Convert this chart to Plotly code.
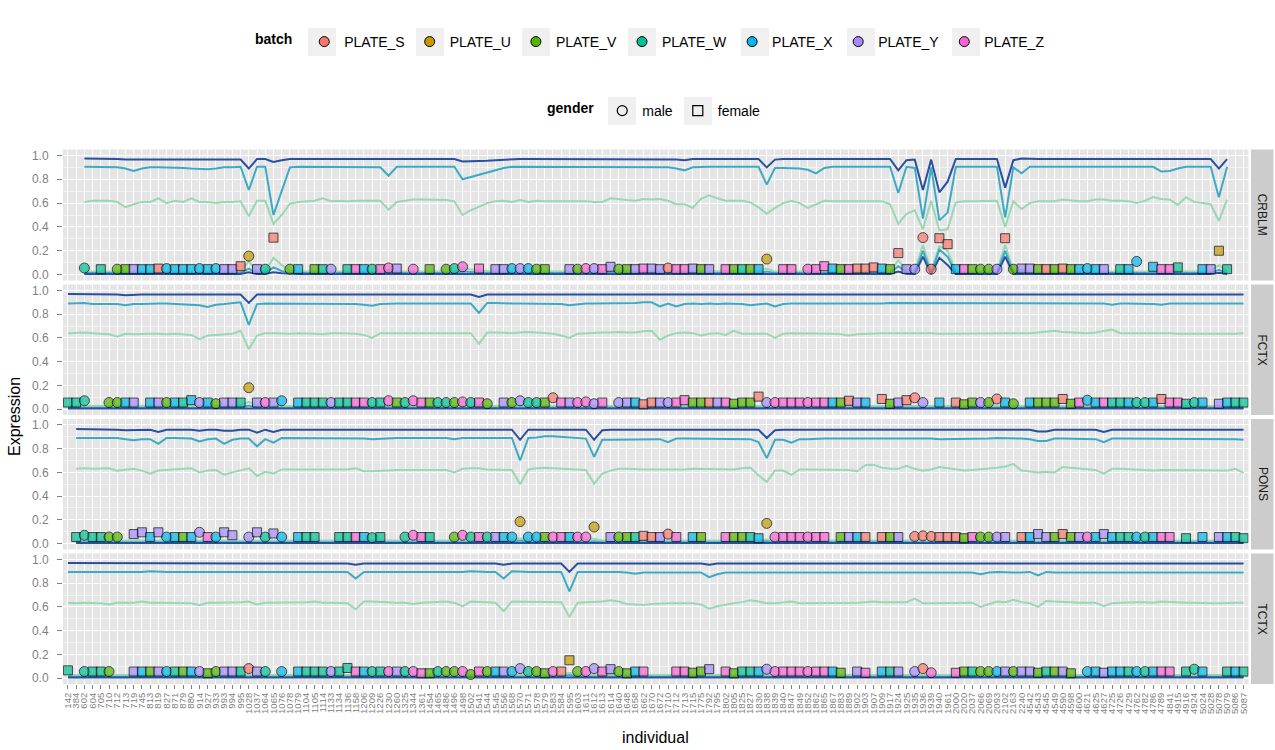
import plotly.graph_objects as go

FONT = "Liberation Sans"
W, H = 1275, 750
BODY = 0  # page margin is removed by the post script below


def px(x):
    return (x - BODY) / W


def py(y):
    return 1 - (y - BODY) / H


individuals = ("142 384 602 604 705 710 712 713 719 745 813 819 "
               "827 871 879 880 914 927 933 993 994 995 1028 1037 "
               "1064 1065 1076 1078 1079 1104 1105 1114 1133 1134 1136 1158 "
               "1206 1209 1226 1230 1260 1325 1344 1361 1454 1465 1486 1496 "
               "1498 1502 1541 1544 1545 1556 1568 1570 1571 1578 1579 1583 "
               "1584 1595 1603 1611 1612 1613 1614 1640 1648 1658 1662 1670 "
               "1672 1710 1712 1713 1715 1775 1792 1795 1802 1805 1825 1827 "
               "1830 1838 1839 1840 1847 1849 1852 1862 1865 1867 1883 1889 "
               "1902 1903 1907 1909 1917 1924 1925 1935 1936 1939 1940 1961 "
               "2000 2020 2037 2066 2069 2093 2102 2163 2240 4542 4543 4545 "
               "4549 4590 4598 4600 4621 4625 4627 4725 4726 4729 4762 4782 "
               "4786 4789 4841 4915 4916 4924 5024 5028 5078 5079 5086 5087").split()
N = len(individuals)

batch_names = ["PLATE_S", "PLATE_U", "PLATE_V", "PLATE_W", "PLATE_X", "PLATE_Y", "PLATE_Z"]
batch_letters = ["S", "U", "V", "W", "X", "Y", "Z"]
batch_colors = ["#F8766D", "#C49A00", "#53B400", "#00C094", "#00B6EB", "#A58AFF", "#FB61D7"]
gender_names = ["male", "female"]
tissues = ["CRBLM", "FCTX", "PONS", "TCTX"]

# sample codes per individual: batch letter + gender (m/f); "." = no sample
crblm_codes = (". . Wm . Wf . Vm Vf Yf Xf Xf Sf "
               "Xm Xf Xf Xf Xm Xf Xm Yf Yf Sf Um Yf "
               "Wm Sf . Vm Xf . Vf Wf Ym . Wf Zf "
               "Xf Wm Zf Zm Yf . Zm . Vf . Vm Wm "
               "Zm . Zf . Yf Yf Xm Ym Xm Vm Vf . "
               ". Yf Vm Zm Ym Zf Yf Vm Vf Yf Zf Yf "
               "Yf Sm Zf Zf Yf Vf Yf . Zf Vf Wf Vf "
               "Xf Um . Zf Zf . Zm Zf Zf Xf Vf Zf "
               "Sf Sf Sf Xf Vf Sf Yf Ym Sm Sm Sf Sf "
               "Xf Zf Vf Vm Vm Ym Sf Vm Yf Yf Vf Sf "
               "Vf Sf Vf Xf Xm Xf Yf . Wf Xf Xm . "
               "Xf Zf Zf Wf . . Xf Yf Uf Wf . .").split()
fctx_codes = ("Wf Wf Wm . . Vm Vm Xf Yf . Xf Yf "
              "Vm Xf Wf Xf Ym Xf Vm Yf Yf Wf Um Yf "
              "Zm Yf Xm . Xf Wf Wf Wf Ym Wf Wf Zf "
              "Zf Wm Wf Zm Vf Wm Zm Zf Vf Wm Wm Vm "
              "Zm Wm Zf Vm . Yf Vm Ym Wm Wm Vf Sm "
              "Zf Yf Zm Zm Ym Zf . Ym Yf Xf Sf Sf "
              "Yf Ym Zf Zf Vf Vf Sf Yf Zf Vf Vf Vf "
              "Sf Ym Zm Zf Zf Zf Zm Zf Zf Xf Vf Sf "
              "Yf Xf . Sf Vf Yf Sf Sm Ym . Xf . "
              "Sf Vf Vf Ym Vm Sm Xf Vm . Xf Vf Vf "
              "Vf Sf Vf Zf Xm Xf Zf Wf Wf Xf Wm Wm "
              "Xf Sf Zf Zf Wf Wm Xf . Yf Xf Wf Wf").split()
pons_codes = (". Wf Wm Wf Wf Vm Vm . Yf Yf Xf Yf "
              "Xm Xf Vf Xf Ym Zf Xm Yf Yf . Ym Yf "
              "Wm Yf Xm . Xf Wf Wf . . Wf Wf Zf "
              "Xf Wm Wf . . Wm Zm Zf Wf . . Vm "
              "Zm Wm Zf Wm Yf Xf Xm Um Xm Xm Vf Zm "
              "Zf Xf Zm Zm Um . Yf Vm Vf Wf Sf Sf "
              "Yf Sm Zf . Xf Vf . . Zf Vf Vf Wf "
              "Xf Um Zm Zf Zf Zf Zm Zf Zf . Vf Yf "
              "Xf Sf . Sf Vf Yf . Sm Sm Sm Sf Sf "
              "Sf Vf Zf Vm Vm Ym Yf . Sf Xf Yf Yf "
              "Vf Sf Vf Yf Zm Xf Yf Xf Wf Wf Xm Wm "
              "Xf Zf Zf . Wf . Xf . Yf Xf Wf Wf").split()
tctx_codes = ("Wf . Wm Wf Wf Vm . . Yf Xf Vf Yf "
              "Xm Wf Vf Xf Ym Vf Vm Yf Yf Wf Sm Yf "
              "Wm . Xm . Xf Wf Wf Wf Ym Wf Wf Zf "
              "Xf Wm Wf Zm Yf Wm Zm Zf Vf Wm Vm Vm "
              "Zm Vm Zf Vm Xf Yf Xm Ym Wm Vm Vf Zm "
              "Sf Uf Vm Zm Ym Zf Yf Vm Vf Xf Zf . "
              ". . Zf Zf Vf Vf Yf . Zf Vf Wf Wf "
              "Xf Ym Zm Zf Zf Zf Zm Zf Zf Xf Vf . "
              "Yf Zf . Xf Wf Yf . Ym Sm Zm . . "
              "Zf Vf Wf Vm Vm Xm Yf Vm Yf Yf Vf Wf "
              "Vf Yf Vf . Xm Xf Yf Xf Xf Wf Xm Wm "
              "Xf Zf Zf . Wf Wm Xf . . Wf Xf Wf").split()

# expression of the plotted gene, in percent
crblm_expr = [None, None, 5.5, None, 4.5, None, 4.5, 4.5, 4.5, 4.5, 4.5, 5,
              5, 4.5, 4.5, 4.5, 5, 4.5, 5, 4.5, 4.5, 7, 15.5, 4.5,
              4.5, 31, None, 4.5, 4.5, None, 4.5, 4.5, 4.5, None, 4.5, 4.5,
              4.5, 4.5, 4.5, 5.5, 5, None, 4.5, None, 4.5, None, 4.5, 5,
              6.5, None, 5, None, 4.5, 4.5, 5, 5, 5, 4.5, 4.5, None,
              None, 4.5, 4.5, 5, 5, 4.5, 6.5, 4.5, 4.5, 4.5, 5, 5,
              4.5, 5.5, 4.5, 4.5, 5, 4.5, 4.5, None, 4.5, 4.5, 4.5, 4.5,
              4.5, 13, None, 4.5, 4.5, None, 4.5, 4.5, 7, 5, 4.5, 4.5,
              5, 5, 6, 5, 4.5, 18, 4.5, 4.5, 31, 4.5, 30.5, 25.5,
              4.5, 4.5, 4.5, 4.5, 4.5, 4.5, 30.5, 4.5, 5, 5, 4.5, 4.5,
              4.5, 5, 4.5, 4.5, 5, 4.5, 4.5, None, 4.5, 4.5, 11, None,
              6.5, 4.5, 4.5, 6, None, None, 4.5, 4.5, 20, 4.5, None, None]
fctx_expr = [5.5, 5.5, 7, None, None, 5.5, 5.5, 5.5, 5.5, None, 5.5, 5.5,
             5.5, 5.5, 5.5, 7.5, 5.5, 5.5, 4.5, 5.5, 5.5, 5.5, 18, 5.5,
             5.5, 5.5, 7, None, 5.5, 5.5, 5.5, 5.5, 5.5, 5.5, 5.5, 5.5,
             5.5, 5.5, 5.5, 7, 5.5, 5.5, 7, 5.5, 5.5, 5.5, 5.5, 5.5,
             6, 5.5, 5.5, 4.5, None, 5.5, 5.5, 7, 5.5, 5.5, 5.5, 9.5,
             5.5, 5.5, 5.5, 6, 4.5, 5.5, None, 5.5, 5.5, 5.5, 4, 5.5,
             5.5, 5.5, 5.5, 7.5, 5.5, 5.5, 5.5, 5.5, 5.5, 4.5, 5.5, 5.5,
             10.5, 5.5, 5.5, 5.5, 5.5, 5.5, 5.5, 5.5, 5.5, 5.5, 5.5, 7,
             5.5, 5.5, None, 8.5, 4.5, 5.5, 7.5, 9.5, 5.5, None, 5.5, None,
             5.5, 4, 5.5, 5.5, 5.5, 8.5, 5.5, 4.5, None, 5.5, 5.5, 5.5,
             5.5, 8.5, 4.5, 5.5, 7.5, 5.5, 5.5, 5.5, 5.5, 5.5, 5.5, 5.5,
             5.5, 8.5, 5.5, 5.5, 4.5, 5.5, 5.5, None, 4.5, 5.5, 5.5, 5.5]
pons_expr = [None, 5.5, 7, 5.5, 5.5, 5.5, 5.5, None, 8, 9.5, 5.5, 9.5,
             5.5, 5.5, 5.5, 5.5, 9.5, 5.5, 5.5, 9.5, 7, None, 5.5, 9.5,
             5.5, 8.5, 5.5, None, 5.5, 5.5, 5.5, None, None, 5.5, 5.5, 5.5,
             5.5, 5, 5.5, None, None, 5.5, 7, 5.5, 5.5, None, None, 5.5,
             7, 5.5, 5.5, 5.5, 5.5, 5.5, 5.5, 18.5, 5.5, 5.5, 5.5, 5.5,
             5.5, 5.5, 5.5, 5.5, 14, None, 5.5, 5.5, 5.5, 5.5, 6.5, 5.5,
             5.5, 8, 5.5, None, 5.5, 5.5, None, None, 5.5, 5.5, 5.5, 5.5,
             4.5, 17, 5.5, 5.5, 5.5, 5.5, 5.5, 5.5, 5.5, None, 5.5, 5.5,
             5.5, 5.5, None, 5.5, 5.5, 5.5, None, 6, 6.5, 6, 5.5, 5.5,
             5.5, 4.5, 5.5, 5.5, 5.5, 5.5, 5.5, None, 5.5, 5.5, 8, 5.5,
             5.5, 8, 5.5, 5.5, 5.5, 5.5, 8, 5.5, 5.5, 5.5, 5.5, 5.5,
             5.5, 5.5, 5.5, None, 4.5, None, 5.5, None, 5.5, 5.5, 5.5, 4.5]
tctx_expr = [6.5, None, 5.5, 5.5, 5.5, 5.5, None, None, 5.5, 5.5, 5.5, 5.5,
             5.5, 5.5, 5.5, 5.5, 5.5, 4, 5.5, 5.5, 5.5, 5.5, 8, 5.5,
             5.5, None, 5.5, None, 5.5, 5.5, 5.5, 5.5, 5.5, 5.5, 8.5, 5.5,
             5.5, 5.5, 5.5, 5.5, 5.5, 5.5, 5.5, 4, 4, 5.5, 5.5, 5.5,
             5.5, 3, 5.5, 5.5, 5.5, 5.5, 5.5, 8, 5.5, 5.5, 4, 5.5,
             5.5, 15, 5.5, 5.5, 8, 5.5, 7.5, 5.5, 4, 5.5, 5.5, None,
             None, None, 5.5, 5.5, 4.5, 5.5, 7.5, None, 5.5, 4, 5.5, 5.5,
             5.5, 7.5, 5.5, 5.5, 5.5, 5.5, 5.5, 5.5, 5.5, 5.5, 4.5, None,
             5.5, 4.5, None, 5.5, 5.5, 5.5, None, 5.5, 8, 4.5, None, None,
             4.5, 5.5, 5.5, 5.5, 5.5, 5.5, 5.5, 5.5, 5.5, 5.5, 4.5, 5.5,
             5.5, 5.5, 4, None, 5.5, 5.5, 4.5, 5.5, 5.5, 5.5, 5.5, 5.5,
             5.5, 5.5, 5.5, None, 5.5, 7.5, 5.5, None, None, 5.5, 5.5, 5.5]

# reference quantile lines (percent): hi = dark blue, mid = teal, low = light green
crblm_hi = [None, None, 97.5, 97.5, 97.5, 97.5, 97, 96.5, 96.5, 96.5, 96.5, 96.5,
            96.5, 96.5, 96.5, 96.5, 96.5, 96.5, 96.5, 96.5, 96.5, 96.5, 89, 97,
            97, 94.5, 96, 97, 97, 97, 97, 97, 97, 97, 97, 97,
            97, 97, 97, 96.5, 97, 97, 97, 97, 97, 97, 97, 97,
            95, 95, 95, 95.5, 96, 96.5, 97, 97, 97, 97, 97, 97,
            97, 97, 97, 97, 97, 97, 97, 97, 97, 97, 97, 97,
            97, 97, 96.5, 96, 97, 97, 97, 97, 97, 97, 97, 97,
            97, 90, 96.5, 97, 97, 97, 97, 97, 97, 97, 97, 97,
            97, 97, 97, 97, 97, 87.5, 96, 96.5, 71, 96.5, 69, 78,
            97, 97, 97, 97, 97, 97, 73, 96, 97.5, 97, 97, 97,
            97, 97, 97, 97, 97, 97, 97, 97, 97, 97, 97, 97,
            97, 97, 97, 97, 97, 97, 97, 97, 89, 97, None, None]
crblm_mid = [None, None, 90.5, 90.5, 90.5, 90.5, 90, 89, 87, 89, 90, 90,
             90, 89.5, 89.5, 89, 88.5, 88.5, 89, 90, 90, 90.5, 71, 90.5,
             90.5, 50, 70, 90, 90.5, 90.5, 90.5, 90.5, 90.5, 90.5, 90.5, 90.5,
             90.5, 90.5, 90, 83, 90.5, 90.5, 90.5, 90.5, 90.5, 90.5, 90.5, 90.5,
             80, 82, 84, 86, 88, 89.5, 90.5, 90.5, 90.5, 90.5, 90.5, 90.5,
             90.5, 90.5, 90.5, 90.5, 90.5, 90.5, 90.5, 90.5, 90.5, 90.5, 90.5, 90.5,
             90.5, 90, 89, 87.5, 90, 90.5, 90.5, 90.5, 90.5, 90.5, 90.5, 90.5,
             90.5, 75.5, 89.5, 89.5, 89.5, 89, 88, 85, 89.5, 90.5, 90.5, 90.5,
             90.5, 90.5, 90.5, 90.5, 90.5, 68.5, 90.5, 89.5, 47, 90, 45.5, 52,
             90.5, 90.5, 90.5, 90.5, 90.5, 90.5, 48, 90, 85, 90.5, 90.5, 90.5,
             90.5, 90.5, 90.5, 90.5, 90.5, 90.5, 90.5, 90.5, 90.5, 90.5, 90.5, 90.5,
             90.5, 86.5, 87, 89, 90.5, 90.5, 90.5, 90.5, 65, 90.5, None, None]
crblm_low = [None, None, 61, 62, 62, 62, 61, 56.5, 59, 61, 61, 64,
             60, 62, 61, 64, 61, 61, 60, 61, 61, 61.5, 49, 62,
             62, 42.5, 50, 59.5, 61, 61.5, 62, 64, 61.5, 62, 61.5, 62,
             62, 62, 62, 54.5, 61, 62, 63, 63, 63, 62.5, 62.5, 61.5,
             50, 54, 57, 60, 61.5, 62, 61, 62.5, 61, 62, 61.5, 61.5,
             62, 61.5, 61.5, 61.5, 61, 61, 64, 63, 62.5, 62, 63.5, 63,
             63.5, 62, 59, 59, 56, 63.5, 66.5, 64, 62, 62, 62, 60.5,
             56.5, 51, 56, 60, 62, 60, 56, 59, 62, 61.5, 61.5, 61.5,
             61.5, 61.5, 61.5, 61.5, 59, 42.5, 51, 54, 38, 62, 37, 38,
             60.5, 61.5, 61.5, 61.5, 62, 62, 40, 61.5, 55, 60, 61.5, 61.5,
             61.5, 63, 62, 61.5, 61.5, 63, 63, 62, 62, 61.5, 60, 62,
             65, 63.5, 63, 58.5, 65, 61, 60, 59, 45, 63, None, None]
crblm_lo1 = [None, None, 2.5, 2.5, 2.5, 2.5, 2.5, 3, 2.5, 2.5, 2.5, 2.5,
             2.5, 2.5, 2.5, 2.5, 2.5, 2.5, 2.5, 2.5, 2.5, 2.5, 11, 2.5,
             2.5, 14, 8, 3, 2.5, 2.5, 2.5, 2.5, 2.5, 2.5, 2.5, 2.5,
             2.5, 2.5, 2.5, 4, 2.5, 2.5, 2.5, 2.5, 2.5, 2.5, 2.5, 2.5,
             5, 4, 3.5, 3, 2.5, 2.5, 2.5, 2.5, 2.5, 2.5, 2.5, 2.5,
             2.5, 2.5, 2.5, 2.5, 2.5, 2.5, 2.5, 2.5, 2.5, 2.5, 2.5, 2.5,
             2.5, 2.5, 2.5, 3, 2.5, 2.5, 2.5, 2.5, 2.5, 2.5, 2.5, 2.5,
             3, 5, 2.5, 2.5, 2.5, 2.5, 3, 3, 2.5, 2.5, 2.5, 2.5,
             2.5, 2.5, 2.5, 2.5, 2.5, 12, 4, 3, 25, 2.5, 24, 20,
             2.5, 2.5, 2.5, 2.5, 2.5, 2.5, 25, 2.5, 4, 2.5, 2.5, 2.5,
             2.5, 2.5, 2.5, 2.5, 2.5, 2.5, 2.5, 2.5, 2.5, 2.5, 2.5, 2.5,
             2.5, 3, 3, 2.5, 2.5, 2.5, 2.5, 2.5, 8, 2.5, None, None]
crblm_lo2 = [None, None, 1.2, 1.2, 1.2, 1.2, 1.2, 1.2, 1.2, 1.2, 1.2, 1.2,
             1.2, 1.2, 1.2, 1.2, 1.2, 1.2, 1.2, 1.2, 1.2, 1.2, 5, 1.2,
             1.2, 6, 3, 1.2, 1.2, 1.2, 1.2, 1.2, 1.2, 1.2, 1.2, 1.2,
             1.2, 1.2, 1.2, 2, 1.2, 1.2, 1.2, 1.2, 1.2, 1.2, 1.2, 1.2,
             2.5, 2, 1.5, 1.2, 1.2, 1.2, 1.2, 1.2, 1.2, 1.2, 1.2, 1.2,
             1.2, 1.2, 1.2, 1.2, 1.2, 1.2, 1.2, 1.2, 1.2, 1.2, 1.2, 1.2,
             1.2, 1.2, 1.2, 1.2, 1.2, 1.2, 1.2, 1.2, 1.2, 1.2, 1.2, 1.2,
             1.2, 2.5, 1.2, 1.2, 1.2, 1.2, 1.2, 1.2, 1.2, 1.2, 1.2, 1.2,
             1.2, 1.2, 1.2, 1.2, 1.2, 7, 2, 1.2, 20, 1.2, 21, 15,
             1.2, 1.2, 1.2, 1.2, 1.2, 1.2, 20, 1.2, 2, 1.2, 1.2, 1.2,
             1.2, 1.2, 1.2, 1.2, 1.2, 1.2, 1.2, 1.2, 1.2, 1.2, 1.2, 1.2,
             1.2, 1.2, 1.2, 1.2, 1.2, 1.2, 1.2, 1.2, 4, 1.2, None, None]
crblm_lo3 = [None, None, 0.4, 0.4, 0.4, 0.4, 0.4, 0.4, 0.4, 0.4, 0.4, 0.4,
             0.4, 0.4, 0.4, 0.4, 0.4, 0.4, 0.4, 0.4, 0.4, 0.4, 2, 0.4,
             0.4, 2, 1, 0.4, 0.4, 0.4, 0.4, 0.4, 0.4, 0.4, 0.4, 0.4,
             0.4, 0.4, 0.4, 0.4, 0.4, 0.4, 0.4, 0.4, 0.4, 0.4, 0.4, 0.4,
             0.8, 0.6, 0.4, 0.4, 0.4, 0.4, 0.4, 0.4, 0.4, 0.4, 0.4, 0.4,
             0.4, 0.4, 0.4, 0.4, 0.4, 0.4, 0.4, 0.4, 0.4, 0.4, 0.4, 0.4,
             0.4, 0.4, 0.4, 0.4, 0.4, 0.4, 0.4, 0.4, 0.4, 0.4, 0.4, 0.4,
             0.4, 1, 0.4, 0.4, 0.4, 0.4, 0.4, 0.4, 0.4, 0.4, 0.4, 0.4,
             0.4, 0.4, 0.4, 0.4, 0.4, 2.5, 0.6, 0.4, 15, 0.4, 14, 8,
             0.4, 0.4, 0.4, 0.4, 0.4, 0.4, 15, 0.4, 0.4, 0.4, 0.4, 0.4,
             0.4, 0.4, 0.4, 0.4, 0.4, 0.4, 0.4, 0.4, 0.4, 0.4, 0.4, 0.4,
             0.4, 0.4, 0.4, 0.4, 0.4, 0.4, 0.4, 0.4, 1.5, 0.4, None, None]

fctx_hi = [97, 97, 96.5, 96.5, 96.5, 96.5, 96.5, 96, 96.5, 96.5, 96.5, 96.5,
           96.5, 96.5, 96.5, 96.5, 96.5, 96.5, 96.5, 96.5, 96.5, 96.5, 89.5, 96.5,
           96.5, 96.5, 96.5, 96.5, 96.5, 96.5, 96.5, 96.5, 96.5, 96.5, 96.5, 96.5,
           96.5, 96.5, 96.5, 96.5, 96.5, 96.5, 96.5, 96.5, 96.5, 96.5, 96.5, 96.5,
           96.5, 96.5, 94.5, 96.5, 96.5, 96.5, 96.5, 96.5, 96.5, 96.5, 96.5, 96.5,
           96.5, 96.5, 96.5, 96.5, 96.5, 96.5, 96.5, 96.5, 96.5, 96.5, 96.5, 96.5,
           96, 96.5, 96.5, 96.5, 96.5, 96.5, 96.5, 96.5, 96.5, 96.5, 96.5, 96.5,
           96.5, 96.5, 96, 96.5, 96.5, 96.5, 96.5, 96.5, 96.5, 96.5, 96.5, 96.5,
           96.5, 96.5, 96.5, 96.5, 96.5, 96.5, 96.5, 96.5, 96.5, 96.5, 96.5, 96.5,
           96.5, 96.5, 96.5, 96.5, 96.5, 96.5, 96.5, 96.5, 96.5, 96.5, 96.5, 96.5,
           96.5, 96.5, 96.5, 96.5, 96.5, 96.5, 96.5, 96, 96.5, 96.5, 96.5, 96.5,
           96.5, 96.5, 96.5, 96.5, 96.5, 96.5, 96.5, 96.5, 96.5, 96.5, 96.5, 96.5]
fctx_mid = [89, 89, 89.5, 88.5, 88.5, 88, 88.5, 87.5, 88.5, 88.5, 89, 89,
            89, 88.5, 88.5, 88, 87.5, 86, 88, 88.5, 89, 90, 71, 88.5,
            89, 89, 89, 89, 89, 89, 88.5, 88.5, 89, 89, 89, 88.5,
            88, 87, 88.5, 89, 89, 89, 89, 89, 89, 88.5, 88.5, 88.5,
            89, 89, 81, 89.5, 89.5, 89, 89, 89, 89, 89, 88.5, 88.5,
            88.5, 87.5, 88.5, 89, 89, 89, 89, 89, 89, 89.5, 90, 90,
            86.5, 89, 86.5, 88.5, 89, 88.5, 89, 88.5, 89, 89, 88.5, 87.5,
            88.5, 89, 86.5, 88.5, 89, 89, 89, 88.5, 88.5, 89, 89, 88.5,
            88.5, 89, 89, 89, 89.5, 89.5, 89.5, 89, 89, 89, 89, 89,
            89, 89, 89, 89, 89, 89.5, 89.5, 89.5, 89.5, 89, 89, 89,
            89, 89, 89, 89, 89, 89, 89, 88, 89, 89, 89, 88.5,
            88.5, 88, 89, 89, 89, 88.5, 88.5, 89, 89, 89, 89, 89]
fctx_low = [64, 64.5, 64.5, 64, 63.5, 63, 61, 63.5, 63, 63.5, 63.5, 63.5,
            63, 63.5, 63, 62.5, 59, 62, 62.5, 63, 63.5, 66, 50.5, 62,
            64, 64, 63.5, 63.5, 64, 64, 63.5, 63, 64, 64, 64, 63.5,
            62.5, 60, 64, 64, 63.5, 63.5, 64, 64, 63.5, 63.5, 63.5, 63.5,
            64, 64, 55, 64.5, 64.5, 64, 64, 64.5, 65, 64.5, 64, 63.5,
            62, 60, 63.5, 64, 64, 64.5, 64.5, 65, 64.5, 64.5, 65.5, 66,
            58.5, 62, 64, 64.5, 64, 62, 63.5, 64, 62.5, 66, 63.5, 63.5,
            63.5, 63.5, 60, 63.5, 64, 64, 64, 63.5, 63.5, 63.5, 63, 62,
            63, 63.5, 64, 64, 64, 64, 64, 64, 64.5, 64, 63.5, 63.5,
            63.5, 63.5, 63.5, 63.5, 64, 64, 64, 63.5, 63.5, 64, 64.5, 65,
            66, 65, 64.5, 64, 64, 64.5, 65.5, 67, 64, 64, 64, 64,
            64, 64.5, 64, 63.5, 63.5, 63, 63, 63, 63, 63, 63.5, 64]
fctx_lo1 = [2.5, 2.5, 2.5, 2.5, 2.5, 2.5, 2.5, 2.5, 2.5, 2.5, 2.5, 2.5,
            2.5, 2.5, 2.5, 2.5, 2.5, 2.5, 2.5, 2.5, 2.5, 3, 6, 3,
            2.5, 2.5, 2.5, 2.5, 2.5, 2.5, 2.5, 2.5, 2.5, 2.5, 2.5, 2.5,
            2.5, 2.5, 2.5, 2.5, 2.5, 2.5, 2.5, 2.5, 2.5, 2.5, 2.5, 2.5,
            2.5, 2.5, 3.5, 2.5, 2.5, 2.5, 2.5, 2.5, 2.5, 2.5, 2.5, 2.5,
            2.5, 2.5, 2.5, 2.5, 2.5, 2.5, 2.5, 2.5, 2.5, 2.5, 2.5, 2.5,
            2.5, 2.5, 2.5, 2.5, 2.5, 2.5, 2.5, 2.5, 2.5, 2.5, 2.5, 2.5,
            2.5, 2.5, 2.5, 2.5, 2.5, 2.5, 2.5, 2.5, 2.5, 2.5, 2.5, 2.5,
            2.5, 2.5, 2.5, 2.5, 2.5, 2.5, 2.5, 2.5, 2.5, 2.5, 2.5, 2.5,
            2.5, 2.5, 2.5, 2.5, 2.5, 2.5, 2.5, 2.5, 2.5, 2.5, 2.5, 2.5,
            2.5, 2.5, 2.5, 2.5, 2.5, 2.5, 2.5, 2.5, 2.5, 2.5, 2.5, 2.5,
            2.5, 2.5, 2.5, 2.5, 2.5, 2.5, 2.5, 2.5, 2.5, 2.5, 2.5, 2.5]
fctx_lo2 = [1.2, 1.2, 1.2, 1.2, 1.2, 1.2, 1.2, 1.2, 1.2, 1.2, 1.2, 1.2,
            1.2, 1.2, 1.2, 1.2, 1.2, 1.2, 1.2, 1.2, 1.2, 1.2, 3, 1.2,
            1.2, 1.2, 1.2, 1.2, 1.2, 1.2, 1.2, 1.2, 1.2, 1.2, 1.2, 1.2,
            1.2, 1.2, 1.2, 1.2, 1.2, 1.2, 1.2, 1.2, 1.2, 1.2, 1.2, 1.2,
            1.2, 1.2, 2, 1.2, 1.2, 1.2, 1.2, 1.2, 1.2, 1.2, 1.2, 1.2,
            1.2, 1.2, 1.2, 1.2, 1.2, 1.2, 1.2, 1.2, 1.2, 1.2, 1.2, 1.2,
            1.2, 1.2, 1.2, 1.2, 1.2, 1.2, 1.2, 1.2, 1.2, 1.2, 1.2, 1.2,
            1.2, 1.2, 1.2, 1.2, 1.2, 1.2, 1.2, 1.2, 1.2, 1.2, 1.2, 1.2,
            1.2, 1.2, 1.2, 1.2, 1.2, 1.2, 1.2, 1.2, 1.2, 1.2, 1.2, 1.2,
            1.2, 1.2, 1.2, 1.2, 1.2, 1.2, 1.2, 1.2, 1.2, 1.2, 1.2, 1.2,
            1.2, 1.2, 1.2, 1.2, 1.2, 1.2, 1.2, 1.2, 1.2, 1.2, 1.2, 1.2,
            1.2, 1.2, 1.2, 1.2, 1.2, 1.2, 1.2, 1.2, 1.2, 1.2, 1.2, 1.2]
fctx_lo3 = [0.4, 0.4, 0.4, 0.4, 0.4, 0.4, 0.4, 0.4, 0.4, 0.4, 0.4, 0.4,
            0.4, 0.4, 0.4, 0.4, 0.4, 0.4, 0.4, 0.4, 0.4, 0.4, 1, 0.4,
            0.4, 0.4, 0.4, 0.4, 0.4, 0.4, 0.4, 0.4, 0.4, 0.4, 0.4, 0.4,
            0.4, 0.4, 0.4, 0.4, 0.4, 0.4, 0.4, 0.4, 0.4, 0.4, 0.4, 0.4,
            0.4, 0.4, 0.4, 0.4, 0.4, 0.4, 0.4, 0.4, 0.4, 0.4, 0.4, 0.4,
            0.4, 0.4, 0.4, 0.4, 0.4, 0.4, 0.4, 0.4, 0.4, 0.4, 0.4, 0.4,
            0.4, 0.4, 0.4, 0.4, 0.4, 0.4, 0.4, 0.4, 0.4, 0.4, 0.4, 0.4,
            0.4, 0.4, 0.4, 0.4, 0.4, 0.4, 0.4, 0.4, 0.4, 0.4, 0.4, 0.4,
            0.4, 0.4, 0.4, 0.4, 0.4, 0.4, 0.4, 0.4, 0.4, 0.4, 0.4, 0.4,
            0.4, 0.4, 0.4, 0.4, 0.4, 0.4, 0.4, 0.4, 0.4, 0.4, 0.4, 0.4,
            0.4, 0.4, 0.4, 0.4, 0.4, 0.4, 0.4, 0.4, 0.4, 0.4, 0.4, 0.4,
            0.4, 0.4, 0.4, 0.4, 0.4, 0.4, 0.4, 0.4, 0.4, 0.4, 0.4, 0.4]

pons_hi = [None, 96.5, 96.5, 96.5, 96.5, 96.5, 96, 95.5, 95.5, 96, 96, 94,
           96, 96, 96, 96, 95, 96, 96, 95, 95, 96, 96, 93.5,
           96, 94, 96, 96, 96, 96, 96, 96, 96, 96, 96, 96,
           96, 96, 96, 96, 96, 96, 96, 96, 96, 96, 96, 96,
           96, 96, 96, 96, 96, 96, 96, 87.5, 96, 96, 96, 96,
           96, 96, 96, 96, 87.5, 95.5, 96, 96, 96, 96, 96, 96,
           96, 96, 96, 96, 96, 96, 96, 96, 96, 96, 96, 96,
           96, 89, 95.5, 96, 96, 96, 96, 96, 96, 96, 96, 96,
           96, 96, 96, 96, 96, 96, 96, 96, 96, 96, 96, 96,
           96, 96, 96, 96, 96, 96, 96, 96, 96, 96, 94.5, 94.5,
           96, 96, 96, 96, 96, 96, 94, 96, 96, 96, 96, 96,
           96, 96, 96, 96, 96, 96, 96, 96, 96, 96, 96, 96]
pons_mid = [None, 89, 89, 89, 89, 89.5, 89, 88, 87, 88, 88, 84,
            89, 89, 89, 88.5, 86, 88, 88.5, 84, 87.5, 88.5, 88.5, 82,
            88, 85, 89, 89, 89, 89, 89, 89, 89, 89, 89, 89,
            88.5, 88, 88.5, 89, 89, 89, 89, 89, 89, 89, 89, 88,
            89, 89, 89, 89, 89, 89, 89, 70, 89, 89.5, 90.5, 90.5,
            90, 89.5, 89, 88.5, 73, 87.5, 87.5, 87.5, 87.5, 87.5, 88, 88,
            88, 85.5, 88.5, 88.5, 88.5, 88.5, 88.5, 88.5, 88.5, 88.5, 88.5, 88,
            85.5, 72, 87.5, 87.5, 85, 88, 88, 88.5, 88.5, 88.5, 88.5, 88.5,
            88.5, 89, 89, 88.5, 88.5, 88.5, 88.5, 88.5, 88.5, 88.5, 88, 88,
            88, 88.5, 88.5, 88.5, 88.5, 89, 89, 89, 88.5, 88, 86.5, 86.5,
            88.5, 88.5, 88.5, 88.5, 88, 88, 85.5, 88.5, 88.5, 88.5, 88.5, 88,
            88, 88.5, 88.5, 88.5, 88.5, 88, 88, 88, 88, 88, 88, 87.5]
pons_low = [None, 63, 63.5, 63, 63, 63.5, 61.5, 62.5, 63, 61.5, 59, 61.5,
            62, 62.5, 62.5, 63.5, 60, 61.5, 62, 58, 60, 61.5, 63.5, 57,
            60.5, 59, 62.5, 62.5, 62.5, 62, 62, 62, 62.5, 62, 62.5, 63.5,
            61, 61, 61.5, 62, 62, 62, 62, 62, 62, 62, 62, 60,
            63, 63.5, 63.5, 62.5, 62.5, 62, 62, 50, 62.5, 63.5, 64, 63.5,
            63, 62.5, 62.5, 62, 50.5, 59, 61.5, 63, 63, 62.5, 62.5, 62.5,
            62.5, 62, 62.5, 62.5, 63, 63, 63, 62.5, 62.5, 62.5, 63.5, 64,
            57.5, 52, 61.5, 61.5, 58, 62.5, 62.5, 62.5, 62.5, 62.5, 62, 62,
            61, 66, 66.5, 64, 63, 63, 65.5, 63, 61.5, 62.5, 64.5, 63.5,
            63, 61.5, 62, 62.5, 63.5, 64, 65, 67, 61.5, 60.5, 60, 60.5,
            60, 64.5, 64, 63, 62.5, 62, 59, 63, 63, 62.5, 62.5, 62,
            61.5, 62, 62, 62, 62, 61.5, 61.5, 61.5, 61.5, 61.5, 63, 59.5]
pons_lo1 = [None, 2.5, 2.5, 2.5, 2.5, 2.5, 2.5, 2.5, 2.5, 2.5, 2.5, 2.5,
            2.5, 2.5, 2.5, 2.5, 2.5, 2.5, 2.5, 2.5, 2.5, 2.5, 2.5, 2.5,
            2.5, 2.5, 2.5, 2.5, 2.5, 2.5, 2.5, 2.5, 2.5, 2.5, 2.5, 2.5,
            2.5, 2.5, 2.5, 2.5, 2.5, 2.5, 2.5, 2.5, 2.5, 2.5, 2.5, 2.5,
            2.5, 2.5, 2.5, 2.5, 2.5, 2.5, 2.5, 4.5, 2.5, 2.5, 2.5, 2.5,
            2.5, 2.5, 2.5, 2.5, 4, 2.5, 2.5, 2.5, 2.5, 2.5, 2.5, 2.5,
            2.5, 2.5, 2.5, 2.5, 2.5, 2.5, 2.5, 2.5, 2.5, 2.5, 2.5, 2.5,
            2.5, 3.5, 2.5, 2.5, 2.5, 2.5, 2.5, 2.5, 2.5, 2.5, 2.5, 2.5,
            2.5, 2.5, 2.5, 2.5, 2.5, 2.5, 2.5, 2.5, 2.5, 2.5, 2.5, 2.5,
            2.5, 2.5, 2.5, 2.5, 2.5, 2.5, 2.5, 2.5, 2.5, 2.5, 2.5, 2.5,
            2.5, 2.5, 2.5, 2.5, 2.5, 2.5, 2.5, 2.5, 2.5, 2.5, 2.5, 2.5,
            2.5, 2.5, 2.5, 2.5, 2.5, 2.5, 2.5, 2.5, 2.5, 2.5, 2.5, 2.5]
pons_lo2 = [None, 1.2, 1.2, 1.2, 1.2, 1.2, 1.2, 1.2, 1.2, 1.2, 1.2, 1.2,
            1.2, 1.2, 1.2, 1.2, 1.2, 1.2, 1.2, 1.2, 1.2, 1.2, 1.2, 1.2,
            1.2, 1.2, 1.2, 1.2, 1.2, 1.2, 1.2, 1.2, 1.2, 1.2, 1.2, 1.2,
            1.2, 1.2, 1.2, 1.2, 1.2, 1.2, 1.2, 1.2, 1.2, 1.2, 1.2, 1.2,
            1.2, 1.2, 1.2, 1.2, 1.2, 1.2, 1.2, 2.5, 1.2, 1.2, 1.2, 1.2,
            1.2, 1.2, 1.2, 1.2, 2, 1.2, 1.2, 1.2, 1.2, 1.2, 1.2, 1.2,
            1.2, 1.2, 1.2, 1.2, 1.2, 1.2, 1.2, 1.2, 1.2, 1.2, 1.2, 1.2,
            1.2, 2, 1.2, 1.2, 1.2, 1.2, 1.2, 1.2, 1.2, 1.2, 1.2, 1.2,
            1.2, 1.2, 1.2, 1.2, 1.2, 1.2, 1.2, 1.2, 1.2, 1.2, 1.2, 1.2,
            1.2, 1.2, 1.2, 1.2, 1.2, 1.2, 1.2, 1.2, 1.2, 1.2, 1.2, 1.2,
            1.2, 1.2, 1.2, 1.2, 1.2, 1.2, 1.2, 1.2, 1.2, 1.2, 1.2, 1.2,
            1.2, 1.2, 1.2, 1.2, 1.2, 1.2, 1.2, 1.2, 1.2, 1.2, 1.2, 1.2]
pons_lo3 = [None, 0.4, 0.4, 0.4, 0.4, 0.4, 0.4, 0.4, 0.4, 0.4, 0.4, 0.4,
            0.4, 0.4, 0.4, 0.4, 0.4, 0.4, 0.4, 0.4, 0.4, 0.4, 0.4, 0.4,
            0.4, 0.4, 0.4, 0.4, 0.4, 0.4, 0.4, 0.4, 0.4, 0.4, 0.4, 0.4,
            0.4, 0.4, 0.4, 0.4, 0.4, 0.4, 0.4, 0.4, 0.4, 0.4, 0.4, 0.4,
            0.4, 0.4, 0.4, 0.4, 0.4, 0.4, 0.4, 1, 0.4, 0.4, 0.4, 0.4,
            0.4, 0.4, 0.4, 0.4, 1, 0.4, 0.4, 0.4, 0.4, 0.4, 0.4, 0.4,
            0.4, 0.4, 0.4, 0.4, 0.4, 0.4, 0.4, 0.4, 0.4, 0.4, 0.4, 0.4,
            0.4, 0.8, 0.4, 0.4, 0.4, 0.4, 0.4, 0.4, 0.4, 0.4, 0.4, 0.4,
            0.4, 0.4, 0.4, 0.4, 0.4, 0.4, 0.4, 0.4, 0.4, 0.4, 0.4, 0.4,
            0.4, 0.4, 0.4, 0.4, 0.4, 0.4, 0.4, 0.4, 0.4, 0.4, 0.4, 0.4,
            0.4, 0.4, 0.4, 0.4, 0.4, 0.4, 0.4, 0.4, 0.4, 0.4, 0.4, 0.4,
            0.4, 0.4, 0.4, 0.4, 0.4, 0.4, 0.4, 0.4, 0.4, 0.4, 0.4, 0.4]

tctx_hi = [97, 97, 97, 96.5, 96.5, 96.5, 96.5, 96.5, 96.5, 96.5, 96.5, 96.5,
           96.5, 96.5, 96.5, 96.5, 96.5, 96.5, 96.5, 96.5, 96.5, 96.5, 96.5, 96.5,
           96.5, 96.5, 96.5, 96.5, 96.5, 96.5, 96.5, 96.5, 96.5, 96.5, 96.5, 95.5,
           96.5, 96.5, 96.5, 96.5, 96.5, 96.5, 96.5, 96.5, 96.5, 96.5, 96.5, 96.5,
           96.5, 96.5, 96.5, 96.5, 96.5, 95.5, 96.5, 96.5, 96.5, 96.5, 96.5, 96.5,
           96.5, 89.5, 96.5, 96.5, 96.5, 96.5, 96.5, 96.5, 96.5, 96.5, 96.5, 96.5,
           96.5, 96.5, 96.5, 96.5, 96.5, 96.5, 95.5, 96.5, 96.5, 96.5, 96.5, 96.5,
           96.5, 96.5, 96.5, 96.5, 96.5, 96.5, 96.5, 96.5, 96.5, 96.5, 96.5, 96.5,
           96.5, 96.5, 96.5, 96.5, 96.5, 96.5, 96.5, 96.5, 96.5, 96.5, 96.5, 96.5,
           96.5, 96.5, 96.5, 96.5, 96.5, 96.5, 96.5, 96.5, 96.5, 96.5, 96.5, 96.5,
           96.5, 96.5, 96.5, 96.5, 96.5, 96.5, 96.5, 96.5, 96.5, 96.5, 96.5, 96.5,
           96.5, 96.5, 96.5, 96.5, 96.5, 96.5, 96.5, 96.5, 96.5, 96.5, 96.5, 96.5]
tctx_mid = [89.5, 89.5, 89.5, 89.5, 89.5, 89, 89, 89.5, 89.5, 89.5, 90, 89.5,
            89.5, 89.5, 89.5, 89.5, 89.5, 89, 89.5, 89.5, 89.5, 89.5, 89.5, 89.5,
            89.5, 89.5, 89.5, 89.5, 89.5, 89.5, 89.5, 89.5, 89.5, 89.5, 89.5, 84,
            89.5, 89.5, 89.5, 89.5, 89.5, 89.5, 89.5, 89.5, 89.5, 89, 89.5, 89.5,
            89.5, 90, 89.5, 89.5, 89.5, 84, 90, 89.5, 89.5, 89.5, 89.5, 89.5,
            89.5, 73, 89.5, 89.5, 89.5, 89.5, 90, 89.5, 89, 88, 89, 89,
            89, 89, 89, 89, 89, 89, 85, 87.5, 89, 89, 89, 89,
            89, 89, 89, 89, 89, 89, 89, 89, 89, 89, 89, 89,
            89, 89, 89, 89, 89, 89, 89, 89, 89, 89, 89, 89,
            89, 89, 89, 87.5, 89, 89.5, 89, 89, 89, 89.5, 86.5, 89.5,
            89, 89, 89, 89, 89, 89, 89, 89, 89, 89, 89, 89,
            89, 89, 89, 89, 89, 89, 89, 89, 89, 89, 89, 89]
tctx_low = [63.5, 63, 63.5, 63.5, 63, 62, 63.5, 63.5, 63.5, 64.5, 63.5, 63.5,
            63.5, 63.5, 63.5, 63, 61.5, 63.5, 63.5, 63.5, 63.5, 64, 64.5, 62,
            63.5, 63.5, 63.5, 63.5, 63.5, 64, 64.5, 63.5, 63.5, 63.5, 63, 58,
            64.5, 64.5, 64, 63.5, 63.5, 63.5, 62.5, 63.5, 64, 64, 64.5, 63.5,
            60.5, 64.5, 64.5, 64, 63.5, 56.5, 64.5, 64.5, 64, 64, 64, 64,
            64, 51.5, 63.5, 64, 64, 64.5, 65.5, 64.5, 62.5, 62, 61.5, 62.5,
            63, 63, 63, 63, 63, 62, 58.5, 60.5, 62, 63, 64, 65.5,
            64.5, 63, 63, 63.5, 64.5, 63, 63, 63, 63, 63, 63, 63.5,
            63.5, 64, 64.5, 64, 64, 64, 64, 67, 63, 63, 63, 63,
            63, 63.5, 63.5, 60, 62.5, 64.5, 64, 66, 64, 63, 60, 65,
            64.5, 64.5, 64, 63.5, 63.5, 63.5, 60.5, 63, 63.5, 64, 64, 64,
            63.5, 64.5, 64, 63.5, 63.5, 63.5, 63, 63, 63, 63.5, 63.5, 63.5]
tctx_lo1 = [2.5, 2.5, 2.5, 2.5, 2.5, 2.5, 2.5, 2.5, 2.5, 2.5, 2.5, 2.5,
            2.5, 2.5, 2.5, 2.5, 2.5, 2.5, 2.5, 2.5, 2.5, 2.5, 2.5, 2.5,
            2.5, 2.5, 2.5, 2.5, 2.5, 2.5, 2.5, 2.5, 2.5, 2.5, 2.5, 3,
            2.5, 2.5, 2.5, 2.5, 2.5, 2.5, 2.5, 2.5, 2.5, 2.5, 2.5, 2.5,
            2.5, 2.5, 2.5, 2.5, 2.5, 3, 2.5, 2.5, 2.5, 2.5, 2.5, 2.5,
            2.5, 4.5, 2.5, 2.5, 2.5, 2.5, 2.5, 2.5, 2.5, 2.5, 2.5, 2.5,
            2.5, 2.5, 2.5, 2.5, 2.5, 2.5, 2.5, 2.5, 2.5, 2.5, 2.5, 2.5,
            2.5, 2.5, 2.5, 2.5, 2.5, 2.5, 2.5, 2.5, 2.5, 2.5, 2.5, 2.5,
            2.5, 2.5, 2.5, 2.5, 2.5, 2.5, 2.5, 2.5, 2.5, 2.5, 2.5, 2.5,
            2.5, 2.5, 2.5, 2.5, 2.5, 2.5, 2.5, 2.5, 2.5, 2.5, 2.5, 2.5,
            2.5, 2.5, 2.5, 2.5, 2.5, 2.5, 2.5, 2.5, 2.5, 2.5, 2.5, 2.5,
            2.5, 2.5, 2.5, 2.5, 2.5, 2.5, 2.5, 2.5, 2.5, 2.5, 2.5, 2.5]
tctx_lo2 = [1.2, 1.2, 1.2, 1.2, 1.2, 1.2, 1.2, 1.2, 1.2, 1.2, 1.2, 1.2,
            1.2, 1.2, 1.2, 1.2, 1.2, 1.2, 1.2, 1.2, 1.2, 1.2, 1.2, 1.2,
            1.2, 1.2, 1.2, 1.2, 1.2, 1.2, 1.2, 1.2, 1.2, 1.2, 1.2, 1.2,
            1.2, 1.2, 1.2, 1.2, 1.2, 1.2, 1.2, 1.2, 1.2, 1.2, 1.2, 1.2,
            1.2, 1.2, 1.2, 1.2, 1.2, 1.2, 1.2, 1.2, 1.2, 1.2, 1.2, 1.2,
            1.2, 2.5, 1.2, 1.2, 1.2, 1.2, 1.2, 1.2, 1.2, 1.2, 1.2, 1.2,
            1.2, 1.2, 1.2, 1.2, 1.2, 1.2, 1.2, 1.2, 1.2, 1.2, 1.2, 1.2,
            1.2, 1.2, 1.2, 1.2, 1.2, 1.2, 1.2, 1.2, 1.2, 1.2, 1.2, 1.2,
            1.2, 1.2, 1.2, 1.2, 1.2, 1.2, 1.2, 1.2, 1.2, 1.2, 1.2, 1.2,
            1.2, 1.2, 1.2, 1.2, 1.2, 1.2, 1.2, 1.2, 1.2, 1.2, 1.2, 1.2,
            1.2, 1.2, 1.2, 1.2, 1.2, 1.2, 1.2, 1.2, 1.2, 1.2, 1.2, 1.2,
            1.2, 1.2, 1.2, 1.2, 1.2, 1.2, 1.2, 1.2, 1.2, 1.2, 1.2, 1.2]
tctx_lo3 = [0.4, 0.4, 0.4, 0.4, 0.4, 0.4, 0.4, 0.4, 0.4, 0.4, 0.4, 0.4,
            0.4, 0.4, 0.4, 0.4, 0.4, 0.4, 0.4, 0.4, 0.4, 0.4, 0.4, 0.4,
            0.4, 0.4, 0.4, 0.4, 0.4, 0.4, 0.4, 0.4, 0.4, 0.4, 0.4, 0.4,
            0.4, 0.4, 0.4, 0.4, 0.4, 0.4, 0.4, 0.4, 0.4, 0.4, 0.4, 0.4,
            0.4, 0.4, 0.4, 0.4, 0.4, 0.4, 0.4, 0.4, 0.4, 0.4, 0.4, 0.4,
            0.4, 1, 0.4, 0.4, 0.4, 0.4, 0.4, 0.4, 0.4, 0.4, 0.4, 0.4,
            0.4, 0.4, 0.4, 0.4, 0.4, 0.4, 0.4, 0.4, 0.4, 0.4, 0.4, 0.4,
            0.4, 0.4, 0.4, 0.4, 0.4, 0.4, 0.4, 0.4, 0.4, 0.4, 0.4, 0.4,
            0.4, 0.4, 0.4, 0.4, 0.4, 0.4, 0.4, 0.4, 0.4, 0.4, 0.4, 0.4,
            0.4, 0.4, 0.4, 0.4, 0.4, 0.4, 0.4, 0.4, 0.4, 0.4, 0.4, 0.4,
            0.4, 0.4, 0.4, 0.4, 0.4, 0.4, 0.4, 0.4, 0.4, 0.4, 0.4, 0.4,
            0.4, 0.4, 0.4, 0.4, 0.4, 0.4, 0.4, 0.4, 0.4, 0.4, 0.4, 0.4]

y_ticks = [0.0, 0.2, 0.4, 0.6, 0.8, 1.0]
y_minor = [0.1, 0.3, 0.5, 0.7, 0.9]

# ---------------------------------------------------------------- styling
C_HI, C_MID, C_LOW = "#2A4F9E", "#3CAAC4", "#98D8B2"
GREY_TXT = "#7F7F7F"
color_of = dict(zip(batch_letters, batch_colors))

panels = [
    (crblm_codes, crblm_expr, crblm_hi, crblm_mid, crblm_low, crblm_lo1, crblm_lo2, crblm_lo3),
    (fctx_codes, fctx_expr, fctx_hi, fctx_mid, fctx_low, fctx_lo1, fctx_lo2, fctx_lo3),
    (pons_codes, pons_expr, pons_hi, pons_mid, pons_low, pons_lo1, pons_lo2, pons_lo3),
    (tctx_codes, tctx_expr, tctx_hi, tctx_mid, tctx_low, tctx_lo1, tctx_lo2, tctx_lo3),
]
for p in panels:
    for arr in p:
        assert len(arr) == N, (len(arr), N)

# panel pixel extents in the page (top, bottom)
panel_px = [(149.5, 280.5), (284.5, 415.0), (419.0, 549.5), (553.5, 684.0)]
X0, X1 = 63.0, 1248.5

fig = go.Figure()

for k, (codes, expr, hi, mid, low, lo1, lo2, lo3) in enumerate(panels):
    xa = "x" if k == 0 else f"x{k + 1}"
    ya = "y" if k == 0 else f"y{k + 1}"
    for series, col in [(lo1, C_LOW), (lo2, C_MID), (lo3, C_HI),
                        (low, C_LOW), (mid, C_MID), (hi, C_HI)]:
        xs = [individuals[i] for i, v in enumerate(series) if v is not None]
        ys = [v / 100.0 for v in series if v is not None]
        fig.add_trace(go.Scatter(x=xs, y=ys, mode="lines", xaxis=xa, yaxis=ya,
                                 line=dict(color=col, width=2),
                                 showlegend=False, hoverinfo="skip"))
    idx = [i for i, c in enumerate(codes) if c != "."]
    fig.add_trace(go.Scatter(
        x=[individuals[i] for i in idx],
        y=[expr[i] / 100.0 for i in idx],
        mode="markers", xaxis=xa, yaxis=ya, showlegend=False,
        marker=dict(size=[10 if codes[i][1] == "m" else 9 for i in idx],
                    color=[color_of[codes[i][0]] for i in idx],
                    symbol=["circle" if codes[i][1] == "m" else "square" for i in idx],
                    line=dict(color="black", width=1)),
        hovertext=[tissues[k] + " " + individuals[i] for i in idx], hoverinfo="text"))

# legend entries
for name, col in zip(batch_names, batch_colors):
    fig.add_trace(go.Scatter(x=[None], y=[None], mode="markers", name=name, legend="legend",
                             marker=dict(symbol="circle", size=10, color=col,
                                         line=dict(color="black", width=1))))
for name, sym in zip(gender_names, ["circle-open", "square-open"]):
    fig.add_trace(go.Scatter(x=[None], y=[None], mode="markers", name=name, legend="legend2",
                             marker=dict(symbol=sym, size=10, color="black",
                                         line=dict(color="black", width=1.2))))

LEG1_X, LEG2_X = 253, 545
layout = dict(
    width=W, height=H, margin=dict(l=0, r=0, t=0, b=0, autoexpand=False),
    paper_bgcolor="white", plot_bgcolor="#E5E5E5",
    font=dict(family=FONT, color="black"),
    legend=dict(orientation="h", x=px(LEG1_X), xanchor="left", y=py(42), yanchor="middle",
                title=dict(text="<b>batch</b>&nbsp;", side="left", font=dict(size=14)),
                font=dict(size=14, color="black"), bgcolor="rgba(0,0,0,0)", itemwidth=30),
    legend2=dict(orientation="h", x=px(LEG2_X), xanchor="left", y=py(111), yanchor="middle",
                 title=dict(text="<b>gender</b>", side="left", font=dict(size=14)),
                 font=dict(size=14, color="black"), bgcolor="rgba(0,0,0,0)", itemwidth=30),
    shapes=[], annotations=[],
)

# legend key backgrounds (grey95 squares behind each key)
key_boxes = [(LEG1_X + d, 42) for d in (69, 177, 283, 389, 502, 608, 713)] + \
            [(LEG2_X + d, 111) for d in (77, 153)]
for cx, cy in key_boxes:
    layout["shapes"].append(dict(type="rect", xref="paper", yref="paper", layer="below",
                                 x0=px(cx - 14), x1=px(cx + 14), y0=py(cy + 14), y1=py(cy - 14),
                                 fillcolor="#F0F0F0", line=dict(width=0)))

for k in range(4):
    top, bot = panel_px[k]
    xk = "xaxis" if k == 0 else f"xaxis{k + 1}"
    yk = "yaxis" if k == 0 else f"yaxis{k + 1}"
    layout[xk] = dict(
        domain=[px(X0), px(X1)], anchor="y" if k == 0 else f"y{k + 1}",
        type="category", categoryorder="array", categoryarray=individuals,
        range=[-0.6, N - 1 + 0.6], tickmode="array", tickvals=individuals, ticktext=individuals,
        showgrid=True, gridcolor="white", gridwidth=1, zeroline=False, showline=False,
        showticklabels=(k == 3), ticks="outside" if k == 3 else "", ticklen=4,
        tickcolor=GREY_TXT, tickwidth=1, tickangle=-90,
        tickfont=dict(size=9.5, color=GREY_TXT, family=FONT), fixedrange=True)
    layout[yk] = dict(
        domain=[py(bot), py(top)], anchor="x" if k == 0 else f"x{k + 1}",
        range=[-0.05, 1.05], tickmode="array", tickvals=y_ticks,
        ticktext=[f"{v:.1f}" for v in y_ticks],
        showgrid=True, gridcolor="white", gridwidth=1.3, zeroline=False, showline=False,
        minor=dict(tickvals=y_minor, showgrid=True, gridcolor="#F2F2F2", gridwidth=0.6, ticks=""),
        ticks="outside", ticklen=5, tickcolor=GREY_TXT, tickwidth=1, ticklabelstandoff=6,
        tickfont=dict(size=12, color=GREY_TXT, family=FONT), fixedrange=True)
    # facet strip
    layout["shapes"].append(dict(type="rect", xref="paper", yref="paper",
                                 x0=px(1251), x1=px(1273.5), y0=py(bot), y1=py(top),
                                 fillcolor="#CCCCCC", line=dict(width=0), layer="below"))
    layout["annotations"].append(dict(text=tissues[k], xref="paper", yref="paper",
                                      x=px(1262.3), y=py((top + bot) / 2), textangle=90,
                                      showarrow=False, xanchor="center", yanchor="middle",
                                      font=dict(size=12, color="#1A1A1A", family=FONT)))

layout["annotations"].append(dict(text="Expression", xref="paper", yref="paper",
                                  x=px(14), y=py(417), textangle=-90, showarrow=False,
                                  xanchor="center", yanchor="middle",
                                  font=dict(size=16, color="black", family=FONT)))
layout["annotations"].append(dict(text="individual", xref="paper", yref="paper",
                                  x=px((X0 + X1) / 2), y=py(737), showarrow=False,
                                  xanchor="center", yanchor="middle",
                                  font=dict(size=16, color="black", family=FONT)))

fig.update_layout(**layout)
fig.write_html(
    "out.html",
    config={"displayModeBar": False},
    post_script="document.body.style.margin='0';"
                "document.documentElement.style.overflow='hidden';",
)
